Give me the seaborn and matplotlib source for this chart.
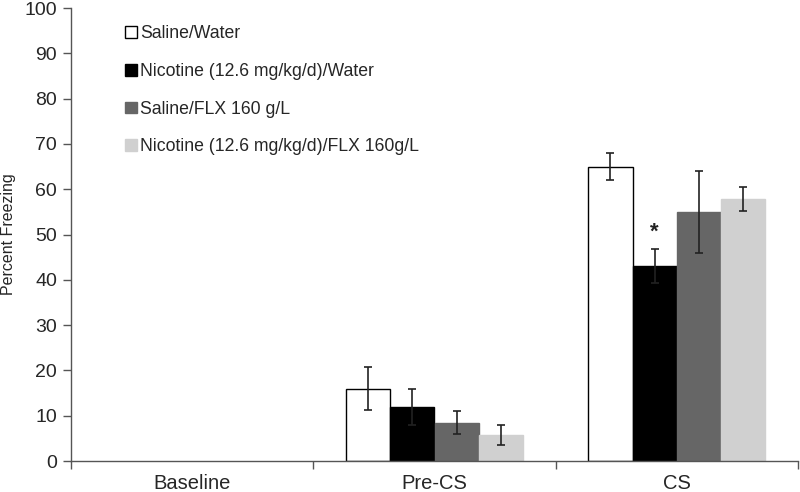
import matplotlib
matplotlib.use("Agg")
import matplotlib.pyplot as plt
import seaborn as sns
import pandas as pd
import numpy as np
from matplotlib.patches import Patch

categories = ["Baseline", "Pre-CS", "CS"]
groups = ["Saline/Water", "Nicotine (12.6 mg/kg/d)/Water",
          "Saline/FLX 160 g/L", "Nicotine (12.6 mg/kg/d)/FLX 160g/L"]
means = {
    "Saline/Water": [0.0, 16.0, 65.0],
    "Nicotine (12.6 mg/kg/d)/Water": [0.0, 12.0, 43.0],
    "Saline/FLX 160 g/L": [0.0, 8.5, 55.0],
    "Nicotine (12.6 mg/kg/d)/FLX 160g/L": [0.0, 5.7, 57.8],
}
sems = {
    "Saline/Water": [0.0, 4.7, 3.0],
    "Nicotine (12.6 mg/kg/d)/Water": [0.0, 4.0, 3.8],
    "Saline/FLX 160 g/L": [0.0, 2.5, 9.0],
    "Nicotine (12.6 mg/kg/d)/FLX 160g/L": [0.0, 2.2, 2.6],
}
fill_colors = ["#ffffff", "#000000", "#666666", "#d0d0d0"]
edge_colors = ["#000000", "#000000", "#666666", "#d0d0d0"]

rows = []
for g in groups:
    for c, m, s in zip(categories, means[g], sems[g]):
        rows.append({"Phase": c, "Group": g, "Freezing": m, "SEM": s})
df = pd.DataFrame(rows)

sns.set_theme(style="white")
plt.rcParams["font.family"] = ["Liberation Sans", "DejaVu Sans"]

fig = plt.figure(figsize=(8.0, 4.92), dpi=100)
ax = fig.add_axes([0.08875, 0.063, 0.90875, 0.9207])

sns.barplot(data=df, x="Phase", y="Freezing", hue="Group", order=categories,
            hue_order=groups, palette=fill_colors, width=0.73, errorbar=None,
            ax=ax, legend=False, linewidth=0)

# style bars & add error bars
for gi, g in enumerate(groups):
    cont = ax.containers[gi]
    xs, ys, es = [], [], []
    for ci, bar in enumerate(cont):
        bar.set_edgecolor(edge_colors[gi])
        bar.set_linewidth(1.0 if bar.get_height() > 0 else 0)
        xs.append(bar.get_x() + bar.get_width() / 2)
        ys.append(bar.get_height())
        es.append(sems[g][ci])
    xs, ys, es = np.array(xs), np.array(ys), np.array(es)
    mask = es > 0
    ax.errorbar(xs[mask], ys[mask], yerr=es[mask], fmt="none", ecolor="#222222",
                elinewidth=1.2, capsize=3, capthick=1.2, zorder=5)

# significance asterisk above Nicotine/Water CS bar
cs_bar = ax.containers[1][2]
ax.text(cs_bar.get_x() + cs_bar.get_width() / 2, 50.5, "*", ha="center",
        va="center", fontsize=16, fontweight="bold", color="#222222")

ax.set_ylim(0, 100)
ax.set_yticks(range(0, 101, 10))
ax.set_xlim(-0.5, 2.5)
ax.set_xticks(range(len(categories)))
ax.set_xticklabels(categories, fontsize=14.5)
ax.set_xticks([-0.5, 0.5, 1.5, 2.5], minor=True)
ax.tick_params(axis="x", which="major", length=0, pad=9)
ax.tick_params(axis="x", which="minor", length=6, width=1, color="#555555",
               direction="out", bottom=True)
ax.tick_params(axis="y", length=6, width=1, color="#555555", direction="out",
               left=True, labelsize=14, pad=4)
ax.set_xlabel("")
ax.set_ylabel("Percent Freezing", fontsize=11.5, labelpad=6)
for side in ["top", "right"]:
    ax.spines[side].set_visible(False)
for side in ["left", "bottom"]:
    ax.spines[side].set_color("#555555")
    ax.spines[side].set_linewidth(1)

handles = [Patch(facecolor=f, edgecolor=("#000000" if i == 0 else f), linewidth=1)
           for i, f in enumerate(fill_colors)]
ax.legend(handles, groups, loc="upper left", bbox_to_anchor=(0.065, 0.978),
          frameon=False, fontsize=12.7, handlelength=0.65, handleheight=0.65,
          handletextpad=0.2, labelspacing=1.18, borderaxespad=0)

fig.savefig("out.png", dpi=100)
